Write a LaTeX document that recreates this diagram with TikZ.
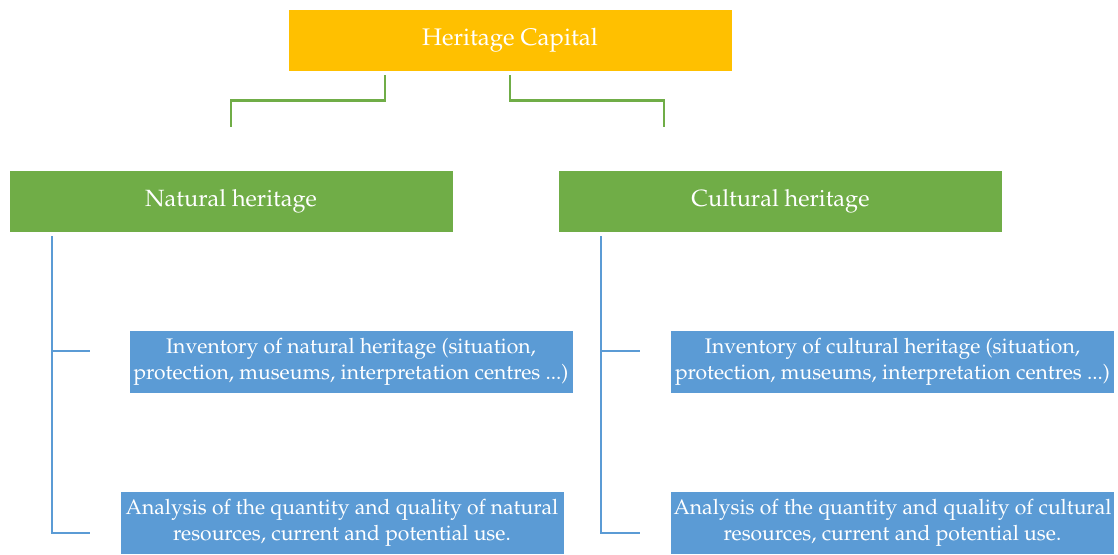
\documentclass[tikz,border=0pt]{standalone}
\usepackage[T1]{fontenc}
\usepackage{mathpazo}
\usetikzlibrary{calc}
\definecolor{capyellow}{HTML}{FFC000}
\definecolor{headgreen}{HTML}{70AD47}
\definecolor{itemblue}{HTML}{5B9BD5}
\begin{document}
\begin{tikzpicture}[x=1pt, y=-1pt,
        box/.style = {draw=white, line width=0.6pt, text=white, align=center, inner sep=0pt},
        top/.style = {box, fill=capyellow, minimum width=444pt, minimum height=62pt, font=\fontsize{24}{29}\selectfont},
        head/.style = {box, fill=headgreen, minimum width=444pt, minimum height=62pt, font=\fontsize{23.5}{29}\selectfont},
        item/.style = {box, fill=itemblue, minimum width=444pt, minimum height=63pt, font=\fontsize{21.1}{26}\selectfont},
        gline/.style = {draw=headgreen, line width=2.4pt},
        bline/.style = {draw=itemblue, line width=2.4pt}]
        \useasboundingbox (0,0) rectangle (1118,554);
        \node[top] (0) at (510,40) {Heritage Capital};
        \node[head] (1) at (231,201) {Natural heritage};
        \node[head] (2) at (780.5,201) {Cultural heritage};
        \node[item] (3) at (351,361.5) {Inventory of natural heritage (situation,\\protection, museums, interpretation centres ...)};
        \node[item] (4) at (342,522.5) {Analysis of the quantity and quality of natural\\resources, current and potential use.};
        \node[item] (5) at (892.5,361.5) {Inventory of cultural heritage (situation,\\protection, museums, interpretation centres ...)};
        \node[item] (6) at (892.5,522.5) {Analysis of the quantity and quality of cultural\\resources, current and potential use.};
        % free ends of the connectors
        \coordinate (1t) at (231,127);
        \coordinate (2t) at (664,127);
        \coordinate (1b) at ($(1.south west)+(43,4)$);
        \coordinate (2b) at ($(2.south west)+(43,4)$);
        \coordinate (3l) at (90,351);
        \coordinate (4l) at (90,533);
        \coordinate (5l) at (640,351);
        \coordinate (6l) at (640,533);
        \draw[gline] ($(0.south)+(-125,4)$) -- ++(0,25) -| (1t);
        \draw[gline] ($(0.south)+(0,4)$) -- ++(0,25) -| (2t);
        \draw[bline] (1b) |- (4l);
        \draw[bline] (1b |- 3l) -- (3l);
        \draw[bline] (2b) |- (6l);
        \draw[bline] (2b |- 5l) -- (5l);
    \end{tikzpicture}
\end{document}
